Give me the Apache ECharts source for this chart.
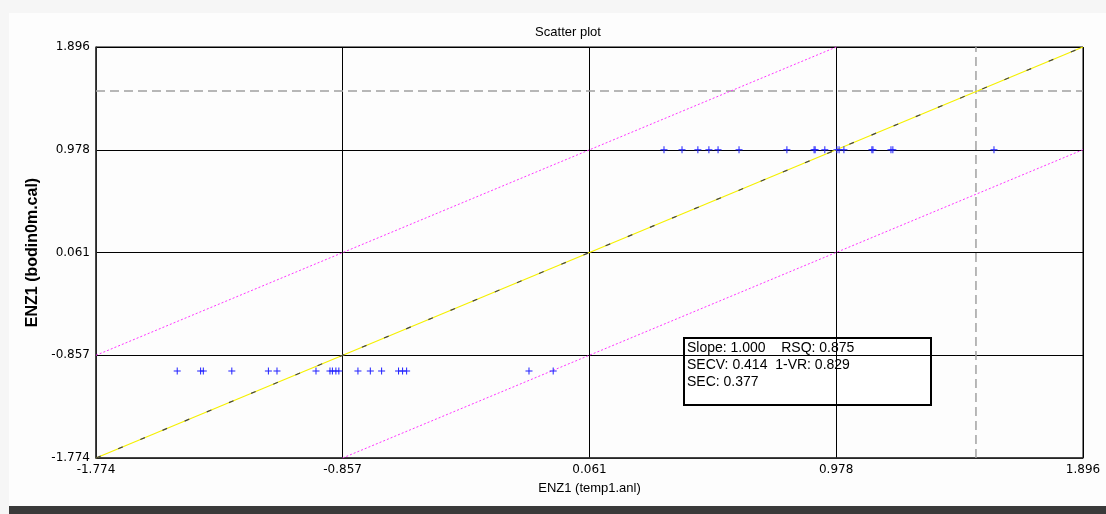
<!DOCTYPE html>
<html>
<head>
<meta charset="utf-8">
<title>Scatter plot</title>
<script src="https://cdn.jsdelivr.net/npm/echarts@6/dist/echarts.min.js"></script>
<style>
  html, body { margin: 0; padding: 0; background: #f6f6f6; }
  #chart1 { width: 1106px; height: 514px; }
</style>
</head>
<body>
<div id="chart1"></div>
<script>
// axis ticks (same on both axes)
const tickVals = [-1.774, -0.857, 0.061, 0.978, 1.896];
const axisMin = -1.774;
const axisMax = 1.896;

// measured points: upper row (reference = 0.978)
const upperX = [0.338, 0.405, 0.464, 0.505, 0.539, 0.617, 0.795, 0.896, 0.900, 0.936,
                0.981, 0.989, 1.007, 1.111, 1.115, 1.182, 1.189, 1.565];
const upperY = 0.978;
// lower row (reference ~ -1.0)
const lowerX = [-1.472, -1.385, -1.375, -1.269, -1.133, -1.101, -0.956, -0.904, -0.895,
                -0.882, -0.871, -0.800, -0.754, -0.712, -0.649, -0.634, -0.619, -0.164, -0.074];
const lowerY = -0.997;

// limits
const limitOffset = 0.917;
const cutX = 1.498;
const cutY = 1.503;

// stats box
const statLines = ['Slope: 1.000    RSQ: 0.875', 'SECV: 0.414  1-VR: 0.829', 'SEC: 0.377'];

const pts = upperX.map(x => [x, upperY]).concat(lowerX.map(x => [x, lowerY]));

const plus = 'path://M3,0H4V7H3Z M0,3H7V4H0Z';

const lineSeries = (data, color, type, width, z) => ({
  type: 'line',
  data: data,
  symbol: 'none',
  silent: true,
  z: z,
  lineStyle: { color: color, type: type, width: width }
});

const axisCommon = (name, nameGap, rotate) => ({
  type: 'value',
  min: axisMin,
  max: axisMax,
  name: name,
  nameLocation: 'middle',
  nameGap: nameGap,
  nameRotate: rotate,
  nameTextStyle: { color: '#000', fontFamily: 'Liberation Sans', fontSize: rotate ? 16 : 13, fontWeight: rotate ? 'bold' : 'normal' },
  axisLine: { show: true, onZero: false, lineStyle: { color: '#333', width: 1.5 } },
  axisTick: { show: false, customValues: tickVals },
  splitLine: { show: true, lineStyle: { color: '#000', width: 1 } },
  axisLabel: {
    customValues: tickVals,
    formatter: v => v.toFixed(3),
    color: '#000',
    fontFamily: 'DejaVu Sans',
    fontSize: 12,
    margin: 6,
    showMinLabel: true,
    showMaxLabel: true
  }
});

let chartDiv = document.getElementById('chart1');
let myChart = echarts.init(chartDiv, null, { renderer: 'canvas' });

let option = {
  backgroundColor: '#f6f6f6',
  animation: false,
  title: {
    text: 'Scatter plot',
    left: 563,
    top: 21,
    textAlign: 'center',
    textStyle: { color: '#000', fontFamily: 'Liberation Sans', fontSize: 13, fontWeight: 'normal' }
  },
  grid: { left: 96, right: 23, top: 47, bottom: 56, show: true, backgroundColor: '#fdfdfd', borderColor: '#000', borderWidth: 1 },
  xAxis: axisCommon('ENZ1 (temp1.anl)', 24, 0),
  yAxis: axisCommon('ENZ1 (bodin0m.cal)', 47, 90),
  graphic: [
    { type: 'rect', left: 9, top: 13, shape: { width: 1097, height: 494 }, style: { fill: '#fdfdfd' }, z: -10, silent: true },
    { type: 'rect', left: 9, top: 506, shape: { width: 1097, height: 8 }, style: { fill: '#3a3a3a' }, z: 100, silent: true },
    {
      type: 'group', left: 683, top: 337, z: 100,
      children: [
        { type: 'rect', shape: { x: 0, y: 0, width: 247, height: 67 }, style: { fill: '#fff', stroke: '#000', lineWidth: 2 } }
      ].concat(statLines.map((s, i) => ({
        type: 'text', x: 3, y: 3 + i * 17,
        style: { text: s, fill: '#000', font: '14px "Liberation Sans"' }
      })))
    }
  ],
  series: [
    lineSeries([[axisMin, cutY], [axisMax, cutY]], '#a0a0a0', [9, 5], 1.5, 2),
    lineSeries([[cutX, axisMin], [cutX, axisMax]], '#a0a0a0', [9, 5], 1.5, 2),
    lineSeries([[axisMin, axisMin + limitOffset], [axisMax - limitOffset, axisMax]], '#ff33ff', [2, 2], 1, 3),
    lineSeries([[axisMin + limitOffset, axisMin], [axisMax, axisMax - limitOffset]], '#ff33ff', [2, 2], 1, 3),
    lineSeries([[axisMin, axisMin], [axisMax, axisMax]], '#f5f000', 'solid', 1.2, 4),
    lineSeries([[axisMin, axisMin], [axisMax, axisMax]], '#444', [5, 19], 1.2, 5),
    {
      type: 'scatter',
      data: pts,
      symbol: plus,
      symbolSize: 7,
      z: 6,
      itemStyle: { color: '#2020ff', opacity: 1 }
    }
  ]
};

myChart.setOption(option);
</script>
</body>
</html>
